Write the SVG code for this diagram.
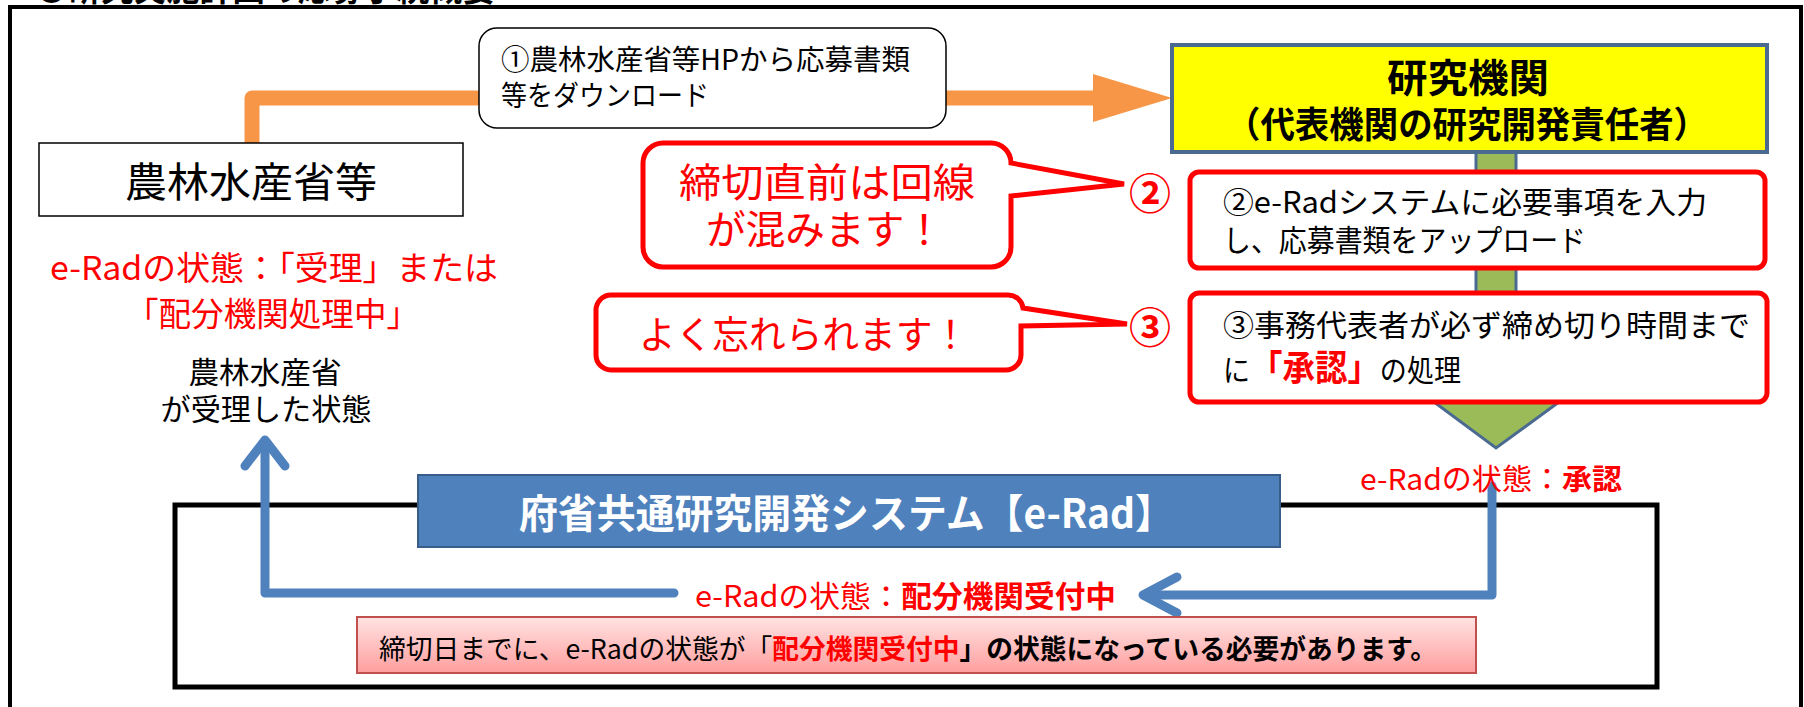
<svg xmlns="http://www.w3.org/2000/svg" width="1804" height="707" viewBox="0 0 1804 707">
<style>
text{font-family:"Noto Sans CJK JP","Noto Sans",sans-serif;}
.blk{fill:#000;}
.red{fill:#FF0000;}
.b{font-weight:bold;}
.redbox{fill:#fff;stroke:#FF0000;stroke-width:5;}
.blue{fill:none;stroke:#4F81BD;stroke-width:9;stroke-linecap:round;stroke-linejoin:round;}
</style>
<defs>
<linearGradient id="pink" x1="0" y1="0" x2="0" y2="1">
<stop offset="0" stop-color="#FFE3E3"/>
<stop offset="1" stop-color="#FF9E9E"/>
</linearGradient>
</defs>
<rect width="1804" height="707" fill="#fff"/>
<g id="frame">
<text x="35" y="1" font-size="36" class="b blk" textLength="460" lengthAdjust="spacingAndGlyphs">●研究実施計画の応募手続概要</text>
<rect x="10" y="7" width="1791" height="740" fill="none" stroke="#000" stroke-width="4"/>
</g>
<g id="erad-frame">
<rect x="175" y="505" width="1482" height="182" fill="none" stroke="#000" stroke-width="5"/>
</g>
<g id="connectors">
<path d="M252,143 V98 H1095" fill="none" stroke="#F79646" stroke-width="15" stroke-linejoin="round"/>
<polygon points="1093,74 1172,98 1093,122" fill="#F79646"/>
<polygon points="1476,152 1516,152 1516,402 1559,402 1496,448 1434,402 1476,402" fill="#9BBB59" stroke="#4A6A91" stroke-width="3"/>
<path class="blue" d="M1492,486 V595 H1146"/>
<polyline class="blue" points="1177,577 1143,595 1177,613" stroke-width="11"/>
<path class="blue" d="M674,593 H265 V444"/>
<polyline class="blue" points="245,466 265,440 285,466" stroke-width="11"/>
</g>
<g id="maff">
<rect x="39" y="143" width="424" height="73" fill="#fff" stroke="#000" stroke-width="1.5"/>
<text x="251" y="197" font-size="41" class="blk" text-anchor="middle" textLength="252" lengthAdjust="spacingAndGlyphs">農林水産省等</text>
</g>
<g id="step1-label">
<rect x="479" y="28" width="467" height="100" rx="18" fill="#fff" stroke="#000" stroke-width="1.5"/>
<text x="501" y="70" font-size="28" class="blk" textLength="409" lengthAdjust="spacingAndGlyphs">①農林水産省等HPから応募書類</text>
<text x="501" y="106" font-size="28" class="blk" textLength="208" lengthAdjust="spacingAndGlyphs">等をダウンロード</text>
</g>
<g id="institution">
<rect x="1172" y="45" width="595" height="107" fill="#FFFF00" stroke="#4A6A91" stroke-width="4"/>
<text x="1468" y="92" font-size="39" class="b blk" text-anchor="middle" textLength="162" lengthAdjust="spacingAndGlyphs">研究機関</text>
<text x="1467" y="138" font-size="36" class="b blk" text-anchor="middle" textLength="482" lengthAdjust="spacingAndGlyphs">（代表機関の研究開発責任者）</text>
</g>
<g id="note-busy">
<path class="redbox" d="M663,143 H991 A20,20 0 0 1 1011,163 L1124,184 L1011,196 V247 A20,20 0 0 1 991,267 H663 A20,20 0 0 1 643,247 V163 A20,20 0 0 1 663,143 Z"/>
<text x="827" y="197" font-size="40" class="red" text-anchor="middle" textLength="296" lengthAdjust="spacingAndGlyphs">締切直前は回線</text>
<text x="825" y="244" font-size="40" class="red" text-anchor="middle" textLength="238" lengthAdjust="spacingAndGlyphs">が混みます！</text>
<text x="1150" y="209" font-size="42" class="b red" text-anchor="middle">②</text>
</g>
<g id="note-forget">
<path class="redbox" d="M611,295 H1008 A15,15 0 0 1 1023,308 L1127,324 L1021,326 V355 A15,15 0 0 1 1006,370 H611 A15,15 0 0 1 596,355 V310 A15,15 0 0 1 611,295 Z"/>
<text x="639" y="348" font-size="38" class="red" textLength="330" lengthAdjust="spacingAndGlyphs">よく忘れられます！</text>
<text x="1150" y="343" font-size="42" class="b red" text-anchor="middle">③</text>
</g>
<g id="step2">
<rect class="redbox" x="1190" y="172" width="575" height="96" rx="9"/>
<text x="1223" y="213" font-size="30" class="blk" textLength="484" lengthAdjust="spacingAndGlyphs">②e-Radシステムに必要事項を入力</text>
<text x="1223" y="251" font-size="30" class="blk" textLength="363" lengthAdjust="spacingAndGlyphs">し、応募書類をアップロード</text>
</g>
<g id="step3">
<rect class="redbox" x="1190" y="293" width="577" height="109" rx="9"/>
<text x="1223" y="336" font-size="30" class="blk" textLength="527" lengthAdjust="spacingAndGlyphs">③事務代表者が必ず締め切り時間まで</text>
<text x="1223" y="381" font-size="30" class="blk" textLength="238" lengthAdjust="spacingAndGlyphs">に<tspan class="b red" font-size="36">「承認」</tspan>の処理</text>
</g>
<g id="status-approved">
<text x="1360" y="490" font-size="29" class="red" textLength="262" lengthAdjust="spacingAndGlyphs">e-Radの状態：<tspan class="b">承認</tspan></text>
</g>
<g id="status-received">
<text x="50" y="280" font-size="33" class="red" textLength="448" lengthAdjust="spacingAndGlyphs">e-Radの状態：「受理」または</text>
<text x="126" y="326" font-size="33" class="red" textLength="293" lengthAdjust="spacingAndGlyphs">「配分機関処理中」</text>
<text x="265" y="383" font-size="30" class="blk" text-anchor="middle" textLength="153" lengthAdjust="spacingAndGlyphs">農林水産省</text>
<text x="266" y="420" font-size="30" class="blk" text-anchor="middle" textLength="211" lengthAdjust="spacingAndGlyphs">が受理した状態</text>
</g>
<g id="erad-title">
<rect x="418" y="475" width="862" height="72" fill="#4F81BD" stroke="#385D8A" stroke-width="2"/>
<text x="519" y="528" font-size="40" class="b" fill="#fff" textLength="655" lengthAdjust="spacingAndGlyphs">府省共通研究開発システム【e-Rad】</text>
</g>
<g id="status-accepting">
<text x="695" y="607" font-size="30" class="red" textLength="421" lengthAdjust="spacingAndGlyphs">e-Radの状態：<tspan class="b">配分機関受付中</tspan></text>
</g>
<g id="deadline-note">
<rect x="357" y="617" width="1119" height="56" fill="url(#pink)" stroke="#C0504D" stroke-width="2"/>
<text x="379" y="659" font-size="27" class="blk" textLength="1058" lengthAdjust="spacingAndGlyphs">締切日までに、e-Radの状態が「<tspan class="b red">配分機関受付中</tspan><tspan class="b">」の状態になっている必要があります。</tspan></text>
</g>
</svg>
